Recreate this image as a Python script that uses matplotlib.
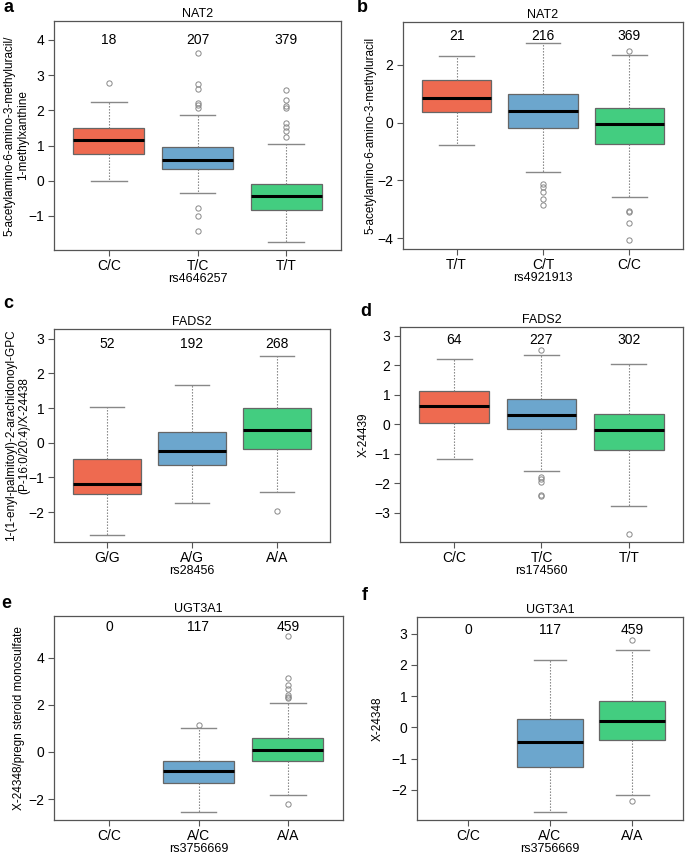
import matplotlib
matplotlib.use("Agg")
import matplotlib.pyplot as plt

plt.rcParams['font.family'] = ['Liberation Sans', 'DejaVu Sans']

W, H = 685, 857

# colours per genotype group
col_red = '#EE6A50'
col_blue = '#6CA6CD'
col_green = '#43CD80'

# ---- panel a : NAT2, rs4646257
a_groups = ['C/C', 'T/C', 'T/T']
a_counts = [18, 207, 379]
a_med = [1.16, 0.58, -0.44]
a_q1 = [0.76, 0.34, -0.82]
a_q3 = [1.50, 0.96, -0.08]
a_lo = [0.0, -0.35, -1.75]
a_hi = [2.24, 1.88, 1.03]
a_fliers = [[2.79],
            [3.62, 2.76, 2.60, 2.21, 2.15, 2.08, -0.77, -1.01, -1.42],
            [2.58, 2.29, 2.13, 2.08, 1.64, 1.54, 1.42, 1.25]]

# ---- panel b : NAT2, rs4921913
b_groups = ['T/T', 'C/T', 'C/C']
b_counts = [21, 216, 369]
b_med = [0.87, 0.40, -0.03]
b_q1 = [0.38, -0.17, -0.73]
b_q3 = [1.48, 0.98, 0.51]
b_lo = [-0.76, -1.72, -2.57]
b_hi = [2.32, 2.75, 2.33]
b_fliers = [[],
            [-2.11, -2.24, -2.39, -2.65, -2.85],
            [2.48, -3.05, -3.09, -3.47, -4.08]]

# ---- panel c : FADS2, rs28456
c_groups = ['G/G', 'A/G', 'A/A']
c_counts = [52, 192, 268]
c_med = [-1.19, -0.23, 0.37]
c_q1 = [-1.47, -0.63, -0.17]
c_q3 = [-0.48, 0.30, 0.99]
c_lo = [-2.65, -1.75, -1.42]
c_hi = [1.02, 1.67, 2.51]
c_fliers = [[], [], [-1.97]]

# ---- panel d : FADS2, rs174560
d_groups = ['C/C', 'T/C', 'T/T']
d_counts = [64, 227, 302]
d_med = [0.61, 0.32, -0.20]
d_q1 = [0.06, -0.17, -0.87]
d_q3 = [1.14, 0.86, 0.36]
d_lo = [-1.18, -1.59, -2.76]
d_hi = [2.20, 2.35, 2.03]
d_fliers = [[],
            [2.53, -1.79, -1.87, -1.95, -2.40, -2.44],
            [-3.72]]

# ---- panel e : UGT3A1, rs3756669
e_groups = ['C/C', 'A/C', 'A/A']
e_counts = [0, 117, 459]
e_med = [None, -0.80, 0.07]
e_q1 = [None, -1.33, -0.38]
e_q3 = [None, -0.38, 0.59]
e_lo = [None, -2.57, -1.84]
e_hi = [None, 1.02, 2.06]
e_fliers = [[], [1.14],
            [4.93, 3.12, 2.85, 2.68, 2.40, 2.33, 2.29, -2.19]]

# ---- panel f : UGT3A1, rs3756669
f_groups = ['C/C', 'A/C', 'A/A']
f_counts = [0, 117, 459]
f_med = [None, -0.47, 0.19]
f_q1 = [None, -1.27, -0.41]
f_q3 = [None, 0.26, 0.85]
f_lo = [None, -2.72, -2.15]
f_hi = [None, 2.17, 2.47]
f_fliers = [[], [], [2.79, -2.36]]

fig = plt.figure(figsize=(W / 100, H / 100), dpi=100)


def panel(box, letter, letter_xy, title, groups, counts, med, q1, q3, lo, hi,
          fliers, ylim, yticks, count_y, ylabel, ylabel_x, xlabel):
    x0, y0, x1, y1 = box
    ax = fig.add_axes([x0 / W, 1 - y1 / H, (x1 - x0) / W, (y1 - y0) / H])
    colors = [col_red, col_blue, col_green]
    stats, pos, cols = [], [], []
    for i in range(3):
        if med[i] is None:
            continue
        stats.append(dict(med=med[i], q1=q1[i], q3=q3[i], whislo=lo[i],
                          whishi=hi[i], fliers=fliers[i]))
        pos.append(i + 1)
        cols.append(colors[i])
    bp = ax.bxp(stats, positions=pos, widths=0.8, patch_artist=True,
                boxprops=dict(edgecolor='#666666', linewidth=0.9),
                medianprops=dict(color='black', linewidth=2.2),
                whiskerprops=dict(color='#777777', linestyle=(0, (1.2, 1.5)), linewidth=0.8),
                capprops=dict(color='#888888', linewidth=1.0),
                capwidths=0.4,
                flierprops=dict(marker='o', markersize=3.8, markerfacecolor='none',
                                markeredgecolor='#888888', markeredgewidth=0.7))
    for patch, c in zip(bp['boxes'], cols):
        patch.set_facecolor(c)
    for i, n in enumerate(counts):
        ax.text(i + 1, count_y, str(n), ha='center', va='center', fontsize=10)
    ax.set_xlim(0.38, 3.62)
    ax.set_ylim(*ylim)
    ax.set_yticks(yticks)
    ax.set_xticks([1, 2, 3])
    ax.set_xticklabels(groups)
    ax.tick_params(labelsize=10, color='#555555', length=4, width=0.8, pad=3)
    ax.tick_params(axis='x', pad=2.5)
    for s in ax.spines.values():
        s.set_color('#555555')
        s.set_linewidth(0.9)
    ax.set_title(title, fontsize=9, pad=3)
    ax.set_ylabel(ylabel, fontsize=8.5, linespacing=1.15)
    ax.yaxis.set_label_coords((ylabel_x - x0) / (x1 - x0), 0.5)
    ax.set_xlabel(xlabel, fontsize=9, labelpad=0)
    fig.text(letter_xy[0] / W, 1 - letter_xy[1] / H, letter, fontsize=13,
             fontweight='bold', ha='left', va='center')
    return ax


panel((54, 21, 341, 250), 'a', (3, 8), 'NAT2', a_groups, a_counts, a_med,
      a_q1, a_q3, a_lo, a_hi, a_fliers, (-1.97, 4.54), [-1, 0, 1, 2, 3, 4], 4.0,
      '5-acetylamino-6-amino-3-methyluracil/\n1-methylxanthine', 29, 'rs4646257')
panel((403, 22, 683, 249), 'b', (357, 8), 'NAT2', b_groups, b_counts, b_med,
      b_q1, b_q3, b_lo, b_hi, b_fliers, (-4.38, 3.49), [-4, -2, 0, 2], 3.0,
      '5-acetylamino-6-amino-3-methyluracil', 376, 'rs4921913')
panel((54, 329, 330, 542), 'c', (3, 304), 'FADS2', c_groups, c_counts, c_med,
      c_q1, c_q3, c_lo, c_hi, c_fliers, (-2.86, 3.28), [-2, -1, 0, 1, 2, 3], 2.85,
      '1-(1-enyl-palmitoyl)-2-arachidonoyl-GPC\n(P-16:0/20:4)/X-24438', 30, 'rs28456')
panel((400, 327, 683, 542), 'd', (360, 312), 'FADS2', d_groups, d_counts, d_med,
      d_q1, d_q3, d_lo, d_hi, d_fliers, (-3.99, 3.30), [-3, -2, -1, 0, 1, 2, 3], 2.85,
      'X-24439', 370, 'rs174560')
panel((54, 616, 343, 820), 'e', (1, 603), 'UGT3A1', e_groups, e_counts, e_med,
      e_q1, e_q3, e_lo, e_hi, e_fliers, (-2.89, 5.77), [-2, 0, 2, 4], 5.32,
      'X-24348/pregn steroid monosulfate', 25, 'rs3756669')
panel((417, 617, 683, 820), 'f', (362, 596), 'UGT3A1', f_groups, f_counts, f_med,
      f_q1, f_q3, f_lo, f_hi, f_fliers, (-2.96, 3.53), [-2, -1, 0, 1, 2, 3], 3.1,
      'X-24348', 384, 'rs3756669')

fig.savefig('out.png', dpi=100)
